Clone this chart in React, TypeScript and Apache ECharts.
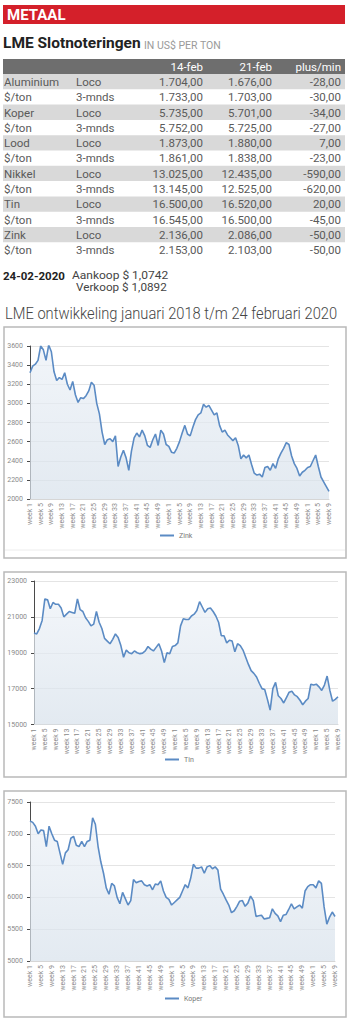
import React, { useEffect, useRef } from 'react';
import * as echarts from 'echarts';

// ---------- categories ----------
const yearWeekCounts = [52, 52, 9]; // 2018, 2019, 2020 (t/m week 9)
const weekLabels: string[] = [];
yearWeekCounts.forEach((n) => {
  for (let w = 1; w <= n; w++) weekLabels.push(`week ${w}`);
});

// ---------- series (USD/ton, weekly readings) ----------
const zink = [
  3320, 3390, 3410, 3450, 3600, 3560, 3450, 3610, 3540, 3330,
  3240, 3270, 3250, 3320, 3200, 3140, 3230, 3090, 3010, 3060,
  3050, 3080, 3130, 3220, 3190, 3000, 2890, 2700, 2570, 2620,
  2630, 2600, 2660, 2340, 2440, 2510, 2430, 2300, 2500, 2640,
  2690, 2650, 2720, 2660, 2560, 2540, 2620, 2680, 2560, 2720,
  2680, 2570, 2550, 2490, 2480, 2530, 2600, 2690, 2770, 2680,
  2660, 2750, 2830, 2880, 2900, 2990, 2960, 2980, 2930, 2880,
  2900, 2770, 2700, 2720, 2670, 2640, 2610, 2640, 2560, 2420,
  2460, 2430, 2460, 2360, 2270, 2250, 2260, 2230, 2330, 2340,
  2300, 2370, 2320, 2420, 2480, 2530, 2590, 2570, 2450, 2370,
  2320, 2240, 2280, 2300, 2330, 2340, 2400, 2460, 2340, 2230,
  2180, 2130, 2080,
];

const tin = [
  20100, 20050, 20350, 20800, 22000, 21950, 21450, 21800, 21700, 21700,
  21500, 21000, 21150, 21300, 21250, 21200, 22000, 21400, 21300, 20950,
  20750, 20500, 20600, 21300, 20700, 20350, 19800, 19650, 19500, 19750,
  20050, 19850, 19400, 18750, 19150, 19000, 18950, 19100, 19000, 18950,
  18980, 19100, 19350, 19200, 19100, 19300, 19500, 19100, 18450, 19000,
  18950, 19350, 19400, 19550, 20500, 20900, 20850, 20850, 21050, 21150,
  21350, 21850, 21550, 21250, 21450, 21500, 21300, 21050, 20700, 19950,
  19950, 19550, 19700, 19650, 19050, 19500, 19400, 19150, 18750, 18350,
  18000, 17850, 17650, 17300, 17000, 16950, 16400, 15800, 17000, 17350,
  16600, 16450, 16200, 16500, 16800, 16850, 16650, 16550, 16350, 16100,
  16300, 16450, 17250, 17200, 17250, 17100, 16900, 17200, 17700, 16900,
  16300, 16400, 16550,
];

const koper = [
  7200, 7180, 7120, 7000, 7060, 7050, 6800, 7120, 7000, 6900,
  6880, 6700, 6520, 6700, 6750, 6930, 6960, 6820, 6800, 6880,
  6800, 6880, 6900, 7250, 7150, 6800, 6560, 6380, 6150, 6050,
  6220, 6180, 6000, 5900, 6080, 5980, 5880, 5950, 6280, 6230,
  6250, 6260, 6200, 6180, 6200, 6120, 6210, 6200, 6260, 6100,
  6000, 5970, 5880, 5920, 5960, 6000, 6100, 6200, 6150, 6300,
  6520, 6460, 6460, 6480, 6380, 6480, 6500, 6450, 6480, 6430,
  6130, 6050, 5960, 5880, 5760, 5790, 5860, 5940, 5950, 5860,
  5910, 6020, 5950, 5700, 5710, 5720, 5660, 5670, 5680, 5820,
  5750, 5710, 5620, 5720, 5730, 5810, 5900, 5820, 5850, 5880,
  5830, 6100, 6170, 6200, 6200, 6150, 6260, 6220, 5850, 5580,
  5690, 5770, 5700,
];

// ---------- table ----------
const tableHeader = ['14-feb', '21-feb', 'plus/min'];
const rowNames = ['Aluminium', '$/ton', 'Koper', '$/ton', 'Lood', '$/ton', 'Nikkel', '$/ton', 'Tin', '$/ton', 'Zink', '$/ton'];
const rowTypes = ['Loco', '3-mnds', 'Loco', '3-mnds', 'Loco', '3-mnds', 'Loco', '3-mnds', 'Loco', '3-mnds', 'Loco', '3-mnds'];
const price14 = ['1.704,00', '1.733,00', '5.735,00', '5.752,00', '1.873,00', '1.861,00', '13.025,00', '13.145,00', '16.500,00', '16.545,00', '2.136,00', '2.153,00'];
const price21 = ['1.676,00', '1.703,00', '5.701,00', '5.725,00', '1.880,00', '1.838,00', '12.435,00', '12.525,00', '16.520,00', '16.500,00', '2.086,00', '2.103,00'];
const change = ['-28,00', '-30,00', '-34,00', '-27,00', '7,00', '-23,00', '-590,00', '-620,00', '20,00', '-45,00', '-50,00', '-50,00'];

const FONT = 'Roboto, "Noto Sans", sans-serif';

function txt(x: number, y: number, text: string, o: any = {}) {
  return {
    type: 'text',
    x,
    y,
    scaleX: o.sx ?? 1,
    silent: true,
    style: {
      text,
      fill: o.color ?? '#555',
      fontSize: o.size ?? 11.5,
      fontWeight: o.weight ?? 'normal',
      fontFamily: o.family ?? FONT,
      align: o.align ?? 'left',
      verticalAlign: 'middle',
    },
  };
}

export default function App() {
  const ref = useRef<HTMLDivElement>(null);

  useEffect(() => {
    const chart = echarts.init(ref.current!, null, { renderer: 'svg' });

    const graphics: any[] = [];
    // Header bar
    graphics.push({ type: 'rect', shape: { x: 3, y: 5, width: 342, height: 19 }, style: { fill: '#d4202a' } });
    graphics.push(txt(7, 15, 'METAAL', { color: '#fff', size: 15, weight: 'bold' }));
    graphics.push(txt(3, 43, 'LME Slotnoteringen', { color: '#222', size: 15.5, weight: 'bold' }));
    graphics.push(txt(144, 45, 'IN US$ PER TON', { color: '#9a9a9a', size: 10.5 }));

    // Table header
    graphics.push({ type: 'rect', shape: { x: 3, y: 59, width: 342, height: 15 }, style: { fill: '#6e6e6e' } });
    const colRight = [203, 272, 341];
    tableHeader.forEach((h, i) => graphics.push(txt(colRight[i], 66.7, h, { color: '#fff', align: 'right' })));

    // Table rows
    const rowH = 15.3;
    rowNames.forEach((name, i) => {
      const top = 74 + i * rowH;
      if (i % 2 === 0) {
        graphics.push({ type: 'rect', shape: { x: 3, y: top, width: 342, height: rowH }, style: { fill: '#d9d9d9' } });
      }
      const cy = top + rowH / 2 + 0.3;
      graphics.push(txt(4, cy, name, { color: '#5a5a5a' }));
      graphics.push(txt(76, cy, rowTypes[i], { color: '#5a5a5a' }));
      graphics.push(txt(colRight[0], cy, price14[i], { color: '#5a5a5a', align: 'right' }));
      graphics.push(txt(colRight[1], cy, price21[i], { color: '#5a5a5a', align: 'right' }));
      graphics.push(txt(colRight[2], cy, change[i], { color: '#5a5a5a', align: 'right' }));
    });

    // Exchange rate
    graphics.push(txt(3, 275.5, '24-02-2020', { color: '#222', weight: 'bold', size: 11.5 }));
    graphics.push(txt(72, 275.5, 'Aankoop $ 1,0742', { color: '#444', size: 10, sx: 1.2 }));
    graphics.push(txt(76, 287.5, 'Verkoop $ 1,0892', { color: '#444', size: 10, sx: 1.17 }));

    // Section title
    graphics.push(txt(5, 313, 'LME ontwikkeling januari 2018 t/m 24 februari 2020', { color: '#454545', size: 17, weight: 300, sx: 0.865 }));

    const charts = [
      { name: 'Zink', data: zink, min: 2000, max: 3600, interval: 200, grid: { left: 30, top: 346, width: 299, height: 153 }, frame: { y: 327, h: 231 }, legend: { left: 160, top: 532 } },
      { name: 'Tin', data: tin, min: 15000, max: 23000, interval: 2000, grid: { left: 34, top: 581, width: 304, height: 143.5 }, frame: { y: 572, h: 205 }, legend: { left: 165, top: 756 } },
      { name: 'Koper', data: koper, min: 5000, max: 7500, interval: 500, grid: { left: 30, top: 802, width: 305, height: 159 }, frame: { y: 791, h: 226 }, legend: { left: 165, top: 995 } },
    ];

    charts.forEach((c) => {
      graphics.push({ type: 'rect', z: 10, shape: { x: 4, y: c.frame.y, width: 342, height: c.frame.h }, style: { fill: 'none', stroke: '#b9b9b9', lineWidth: 1.5 } });
    });
    graphics.push({ type: 'line', shape: { x1: 5, y1: 550, x2: 345, y2: 550 }, style: { stroke: '#ececec', lineWidth: 1 } });

    const option: any = {
      animation: false,
      backgroundColor: '#fff',
      textStyle: { fontFamily: FONT },
      graphic: graphics,
      grid: charts.map((c) => ({ ...c.grid, containLabel: false })),
      legend: charts.map((c) => ({
        data: [c.name],
        left: c.legend.left,
        top: c.legend.top,
        padding: 0,
        icon: 'rect',
        itemWidth: 14,
        itemHeight: 2,
        itemGap: 4,
        textStyle: { fontSize: 7, color: '#777', fontFamily: FONT },
        selectedMode: false,
      })),
      xAxis: charts.map((c, i) => ({
        type: 'category',
        gridIndex: i,
        data: weekLabels,
        boundaryGap: false,
        axisLine: { show: true, lineStyle: { color: '#d6d6d6', width: 1 } },
        axisTick: { show: false },
        axisLabel: { interval: 3, rotate: 90, fontSize: 7, color: '#8a8a8a', margin: 4, fontFamily: FONT },
        splitLine: { show: false },
      })),
      yAxis: charts.map((c, i) => ({
        type: 'value',
        gridIndex: i,
        min: c.min,
        max: c.max,
        interval: c.interval,
        axisLine: { show: true, lineStyle: { color: '#4a4a4a', width: 1 } },
        axisTick: { show: true, length: 3, lineStyle: { color: '#4a4a4a' } },
        axisLabel: { fontSize: 7, color: '#8a8a8a', margin: 7, fontFamily: FONT, formatter: (v: number) => String(v) },
        splitLine: { show: true, lineStyle: { color: '#e4e4e4', width: 1 } },
      })),
      series: charts.map((c, i) => ({
        name: c.name,
        type: 'line',
        xAxisIndex: i,
        yAxisIndex: i,
        data: c.data,
        symbol: 'none',
        showSymbol: false,
        lineStyle: { color: '#5b8bc4', width: 1.6 },
        itemStyle: { color: '#5b8bc4' },
        areaStyle: {
          color: new echarts.graphic.LinearGradient(0, 0, 0, 1, [
            { offset: 0, color: '#ecf1f7' },
            { offset: 1, color: '#d7e1eb' },
          ]),
        },
      })),
    };

    chart.setOption(option);
    return () => chart.dispose();
  }, []);

  return (
    <div
      ref={ref}
      style={{ position: 'absolute', left: 0, top: 0, width: 352, height: 1024, background: '#fff' }}
    />
  );
}
